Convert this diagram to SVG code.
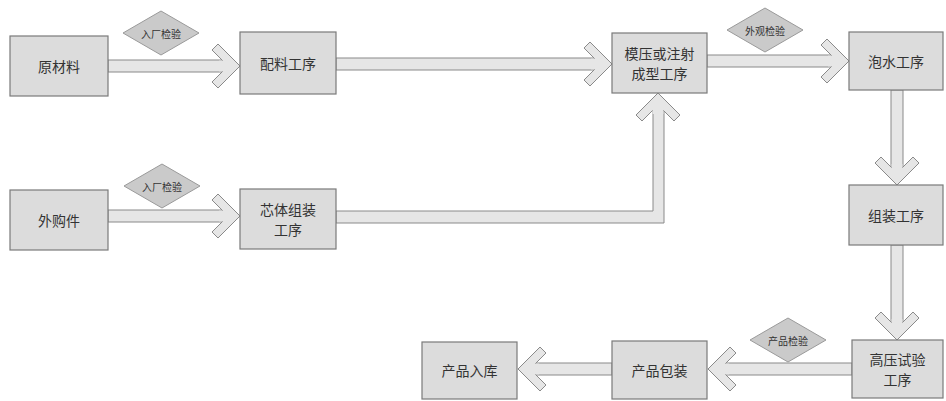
<svg xmlns="http://www.w3.org/2000/svg" xmlns:xlink="http://www.w3.org/1999/xlink" width="946" height="401" viewBox="0 0 946 401">
<style>
.box{fill:#dcdcdc;stroke:#7a7a7a;stroke-width:1.2}
.lbl{font-family:"Noto Sans CJK SC","Noto Sans CJK JP",sans-serif;font-size:14px;fill:#333;text-anchor:middle;dominant-baseline:central}
.dia{fill:#cacaca;stroke:#9a9a9a;stroke-width:1}
.dlbl{font-family:"Noto Sans CJK SC","Noto Sans CJK JP",sans-serif;font-size:10px;fill:#333;text-anchor:middle;dominant-baseline:central}
.shaft{fill:#e6e6e6;stroke:#8a8a8a;stroke-width:1}
</style>
<defs>
<g id="head">
<polygon points="0,0 -22,-22 -28,-16 -12,0 -28,16 -22,22" fill="#e6e6e6" stroke="#8a8a8a" stroke-width="1"/>
<rect x="-21" y="-5.4" width="11" height="10.8" fill="#e6e6e6"/>
</g>
<polygon id="diamond" points="-38,0 0,-22 38,0 0,22" class="dia"/>
</defs>
<rect width="946" height="401" fill="#ffffff"/>
<g id="connectors">
<rect class="shaft" x="108" y="60" width="122" height="12"/>
<use xlink:href="#head" transform="translate(240,66)"/>
<rect class="shaft" x="336" y="58" width="266" height="12"/>
<use xlink:href="#head" transform="translate(612,64)"/>
<rect class="shaft" x="707" y="55" width="132" height="12"/>
<use xlink:href="#head" transform="translate(849,61)"/>
<rect class="shaft" x="891" y="90" width="12" height="85"/>
<use xlink:href="#head" transform="translate(897,185) rotate(90)"/>
<rect class="shaft" x="891" y="245" width="12" height="85"/>
<use xlink:href="#head" transform="translate(897,340) rotate(90)"/>
<rect class="shaft" x="718" y="363" width="134" height="12"/>
<use xlink:href="#head" transform="translate(708,369) rotate(180)"/>
<rect class="shaft" x="528" y="363" width="84" height="12"/>
<use xlink:href="#head" transform="translate(518,369) rotate(180)"/>
<rect class="shaft" x="108" y="210" width="122" height="12"/>
<use xlink:href="#head" transform="translate(240,216)"/>
<polygon class="shaft" points="336,211 653,211 653,103 664,103 664,223 336,223"/>
<use xlink:href="#head" transform="translate(658,93) rotate(-90)"/>
</g>
<g id="check1">
<use xlink:href="#diamond" transform="translate(161,33)"/>
<text class="dlbl" x="161" y="33">入厂检验</text>
</g>
<g id="check2">
<use xlink:href="#diamond" transform="translate(162,186)"/>
<text class="dlbl" x="162" y="186">入厂检验</text>
</g>
<g id="check3">
<use xlink:href="#diamond" transform="translate(765,30)"/>
<text class="dlbl" x="765" y="30">外观检验</text>
</g>
<g id="check4">
<use xlink:href="#diamond" transform="translate(788,340)"/>
<text class="dlbl" x="788" y="340">产品检验</text>
</g>
<g id="raw">
<rect class="box" x="10" y="36" width="98" height="60"/>
<text class="lbl" x="59" y="66">原材料</text>
</g>
<g id="batching">
<rect class="box" x="240" y="32" width="96" height="62"/>
<text class="lbl" x="288" y="63">配料工序</text>
</g>
<g id="molding">
<rect class="box" x="612" y="33" width="95" height="60"/>
<text class="lbl" x="659.5" y="53">模压或注射</text>
<text class="lbl" x="659.5" y="73">成型工序</text>
</g>
<g id="soak">
<rect class="box" x="849" y="32" width="94" height="58"/>
<text class="lbl" x="896" y="61">泡水工序</text>
</g>
<g id="assembly">
<rect class="box" x="849" y="185" width="94" height="60"/>
<text class="lbl" x="896" y="215">组装工序</text>
</g>
<g id="purchased">
<rect class="box" x="10" y="190" width="98" height="60"/>
<text class="lbl" x="59" y="220">外购件</text>
</g>
<g id="core">
<rect class="box" x="240" y="189" width="96" height="60"/>
<text class="lbl" x="288" y="209">芯体组装</text>
<text class="lbl" x="288" y="229">工序</text>
</g>
<g id="hvtest">
<rect class="box" x="852" y="340" width="91" height="58"/>
<text class="lbl" x="897.5" y="359">高压试验</text>
<text class="lbl" x="897.5" y="379">工序</text>
</g>
<g id="packing">
<rect class="box" x="612" y="341" width="95" height="58"/>
<text class="lbl" x="659.5" y="370">产品包装</text>
</g>
<g id="storage">
<rect class="box" x="422" y="342" width="95" height="57"/>
<text class="lbl" x="469.5" y="370">产品入库</text>
</g>
</svg>
